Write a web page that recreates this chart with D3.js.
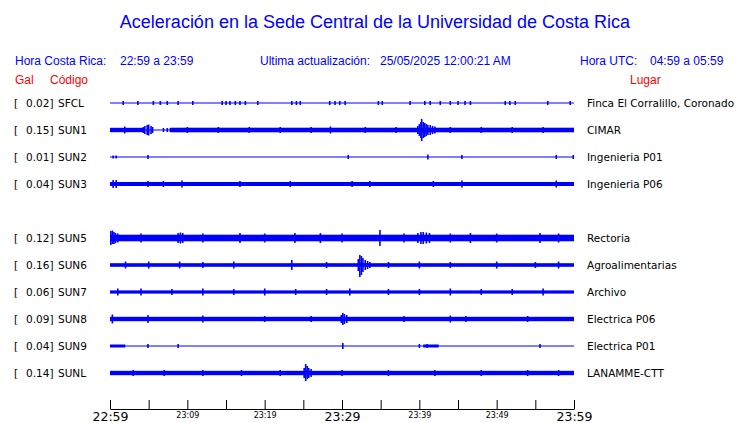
<!DOCTYPE html>
<html><head><meta charset="utf-8">
<script src="https://cdn.jsdelivr.net/npm/d3@7"></script>
<style>body{margin:0;background:#fff}svg{display:block}</style>
</head><body>
<script>
// ---- data ----
const slots = ["SFCL","SUN1","SUN2","SUN3","SUN4","SUN5","SUN6","SUN7","SUN8","SUN9","SUNL"];
const codes = ["SFCL","SUN1","SUN2","SUN3","SUN5","SUN6","SUN7","SUN8","SUN9","SUNL"];
const gal = [0.02,0.15,0.01,0.04,0.12,0.16,0.06,0.09,0.04,0.14];
const places = ["Finca El Corralillo, Coronado","CIMAR","Ingenieria P01","Ingenieria P06","Rectoria","Agroalimentarias","Archivo","Electrica P06","Electrica P01","LANAMME-CTT"];
const tickMinutes = [0,5,10,15,20,25,30,35,40,45,50,55,60];
const tickLabels = ["22:59","","23:09","","23:19","","23:29","","23:39","","23:49","","23:59"];
const majorTicks = ["22:59","23:29","23:59"];
// envelope bands: [start min, end min, half amplitude]
const bands = {
 SFCL:[[0,60,0.5]],
 SUN1:[[0,4.3,2.2],[4.3,7.8,0.5],[7.8,60,2.3]],
 SUN2:[[0,60,0.5]],
 SUN3:[[0,60,2]],
 SUN5:[[0,60,3.3]],
 SUN6:[[0,60,1.8]],
 SUN7:[[0,60,1.6]],
 SUN8:[[0,60,2.2]],
 SUN9:[[0,2,1.5],[2,60,0.5],[40.5,42.5,1.5]],
 SUNL:[[0,60,2.2]]
};
// peaks: [minute, amplitude up, amplitude down]
const spikes = {
 SFCL:[[1.7,2,2],[3.6,2,2],[5.6,2,2],[6.5,2,2],[7.4,2,2],[8.8,2,2],[10.7,2,2],[14.5,2,2],[15,2,2],[15.5,2,2],[16.2,2,2],[16.8,2,2],[17.5,2,2],[19.1,2,2],[23.5,2,2],[24.1,2,2],[24.6,2,2],[28.4,2,2],[29.1,2,2],[29.7,2,2],[30.4,2,2],[34.7,2,2],[35.2,2,2],[38.8,2,2],[40.7,2,2],[41.4,2,2],[42.7,2,2],[44,2,2],[45,2,2],[45.9,2,2],[46.6,2,2],[51.1,2,2],[51.7,2,2],[52.4,2,2],[56.6,2,2],[59.5,2,2]],
 SUN1:[[1.9,3.5,3.5],[4.3,3,3],[4.5,4,4],[4.8,5,5],[5.0,5.5,5.5],[5.3,4,4],[5.5,3,3],[6.9,2,2],[7.4,2,2],[7.8,2,2],[10,3,3],[14,3,3],[18,3,3],[22,3,3],[26,3,3],[28.5,3.5,3.5],[33,3,3],[37,3,3],
       [39.8,4,4],[40.0,6,6],[40.2,8,8],[40.3,11,11],[40.5,8,8],[40.7,7,7],[40.9,6,6],[41.1,5,5],[41.4,5,5],[41.7,4,4],[42.0,3.5,3.5],[44,3,3],[48,3,3],[52,3,3],[56,3,3]],
 SUN2:[[0.4,1.5,1.5],[0.8,1.5,1.5],[4.9,2,2],[30.8,2,2],[41.1,2.5,2.5],[45.5,2,2],[57.7,2,2],[59.9,2,2]],
 SUN3:[[0.4,4,4],[0.8,4,4],[4.9,3,3],[6.9,3,3],[9.3,3.5,3.5],[16.8,3,3],[23.3,3,3],[31.3,3,3],[33.6,3,3],[41.8,3,3],[45.5,3.5,3.5],[57.7,3.5,3.5]],
 SUN5:[[0.1,7,7],[0.3,7.5,6],[0.5,6,6],[0.7,5,5],[1,4.5,4.5],[4,4.5,4.5],[8.8,5,5],[9.1,5.5,5.5],[9.4,5,5],[12,4.5,4.5],[16.8,5,5],[20,4.5,4.5],[23.9,5,5],[27.2,5,5],[30,4.5,4.5],[34.9,8,8],[38,4.5,4.5],
       [39.8,5,5],[40.2,6,6],[40.5,6,6],[40.9,5.5,5.5],[41.3,5,5],[44,4.5,4.5],[46.6,5,5],[50,4.5,4.5],[55.6,5,5],[58,4.5,4.5]],
 SUN6:[[2,3.5,3.5],[5,3.5,3.5],[9,3.5,3.5],[12,3,3],[16,3.5,3.5],[23.5,5,5],[28,3,3],[32.1,6,6],[32.3,10,12],[32.5,9,10],[32.7,7,7],[33,5,5],[33.3,4,4],[33.6,3,3],[36,3,3],[40,3.5,3.5],[44,3,3],[50,3.5,3.5],[55,3,3],[58,3.5,3.5]],
 SUN7:[[1,3.5,3.5],[4,3.5,3.5],[8,3,3],[12,3.5,3.5],[16,3,3],[20,3.5,3.5],[24,3,3],[28,3,3],[31,3.5,3.5],[36,3,3],[40,3,3],[44,3.5,3.5],[48,3,3],[52,3,3],[56,3.5,3.5]],
 SUN8:[[0.3,4.5,4.5],[4.9,4,4],[12,3.5,3.5],[20,3,3],[26,3,3],[29.9,4,4],[30.1,6,6],[30.3,5,5],[30.6,4,4],[38,3,3],[44,3.5,3.5],[46,3,3],[54,3,3]],
 SUN9:[[4.9,2,2],[8.8,2,2],[30.1,3,3],[40,2,2],[41,2,2],[55.6,2,2]],
 SUNL:[[3,3,3],[7,3,3],[12,3,3],[17,3,3],[22,3,3],[25.1,5,5],[25.3,9,8],[25.5,7,6],[25.7,5,5],[26,4,4],[30,3,3],[36,3,3],[42,3,3],[48,3,3],[54,3,3],[58,3,3]]
};

// ---- drawing ----
const W=740,H=423;
const svg=d3.select("body").append("svg").attr("width",W).attr("height",H);
const blue="#0000ff", red="#ff0000";
const x=d3.scaleLinear().domain([0,60]).range([110,574]);
const y=d3.scalePoint().domain(slots).range([103,373]);
const a=d3.scaleLinear().domain([0,1]).range([0,1]);
const sans="'Liberation Sans', Arial, sans-serif", dv="'DejaVu Sans', sans-serif";

svg.append("text").attr("x",375).attr("y",28).attr("text-anchor","middle")
 .attr("font-family",sans).attr("font-size",18).attr("fill",blue)
 .text("Aceleración en la Sede Central de la Universidad de Costa Rica");
const hdr=[[15,"Hora Costa Rica:"],[120,"22:59 a 23:59"],[260,"Ultima actualización:"],[380,"25/05/2025 12:00:21 AM"],[580,"Hora UTC:"],[650,"04:59 a 05:59"]];
svg.selectAll("text.h").data(hdr).join("text").attr("class","h").attr("x",d=>d[0]).attr("y",65)
 .attr("font-family",sans).attr("font-size",12).attr("fill",blue).text(d=>d[1]);
const rh=[[15,"Gal"],[50,"Código"],[630,"Lugar"]];
svg.selectAll("text.r").data(rh).join("text").attr("class","r").attr("x",d=>d[0]).attr("y",84)
 .attr("font-family",sans).attr("font-size",12).attr("fill",red).text(d=>d[1]);

const g=svg.append("g");
codes.forEach((c,i)=>{
  const y0=y(c);
  const row=g.append("g");
  row.append("text").attr("x",14).attr("y",y0+4).attr("font-family",dv).attr("font-size",10.5).text("[");
  row.append("text").attr("x",53.5).attr("y",y0+4).attr("text-anchor","end").attr("font-family",dv).attr("font-size",10.5).text(gal[i].toFixed(2)+"]");
  row.append("text").attr("x",58).attr("y",y0+4).attr("font-family",dv).attr("font-size",10.5).text(c);
  row.append("text").attr("x",587).attr("y",y0+4).attr("font-family",dv).attr("font-size",10.5).text(places[i]);
  (bands[c]||[]).forEach(b=>{
    row.append("rect").attr("x",x(b[0])).attr("width",x(b[1])-x(b[0]))
      .attr("y",y0-a(b[2])).attr("height",Math.max(1,2*a(b[2]))).attr("fill",blue);
  });
  (spikes[c]||[]).forEach(s=>{
    row.append("rect").attr("x",x(s[0])-0.75).attr("width",1.6).attr("y",y0-a(s[1])).attr("height",a(s[1])+a(s[2])).attr("fill",blue);
  });
});

const ax=svg.append("g").attr("transform","translate(0,409)")
 .call(d3.axisBottom(x).tickValues(tickMinutes).tickSizeInner(-9).tickSizeOuter(0).tickFormat((d,i)=>tickLabels[i]));
ax.select(".domain").attr("stroke","#000");
ax.selectAll(".tick line").attr("stroke","#000");
ax.selectAll(".tick text").attr("font-family",dv).attr("fill","#000").attr("dy",null)
 .each(function(){
   const big=majorTicks.includes(this.textContent);
   d3.select(this).attr("font-size",big?12.5:8).attr("y",big?12:8.5);
 });
</script>
</body></html>
